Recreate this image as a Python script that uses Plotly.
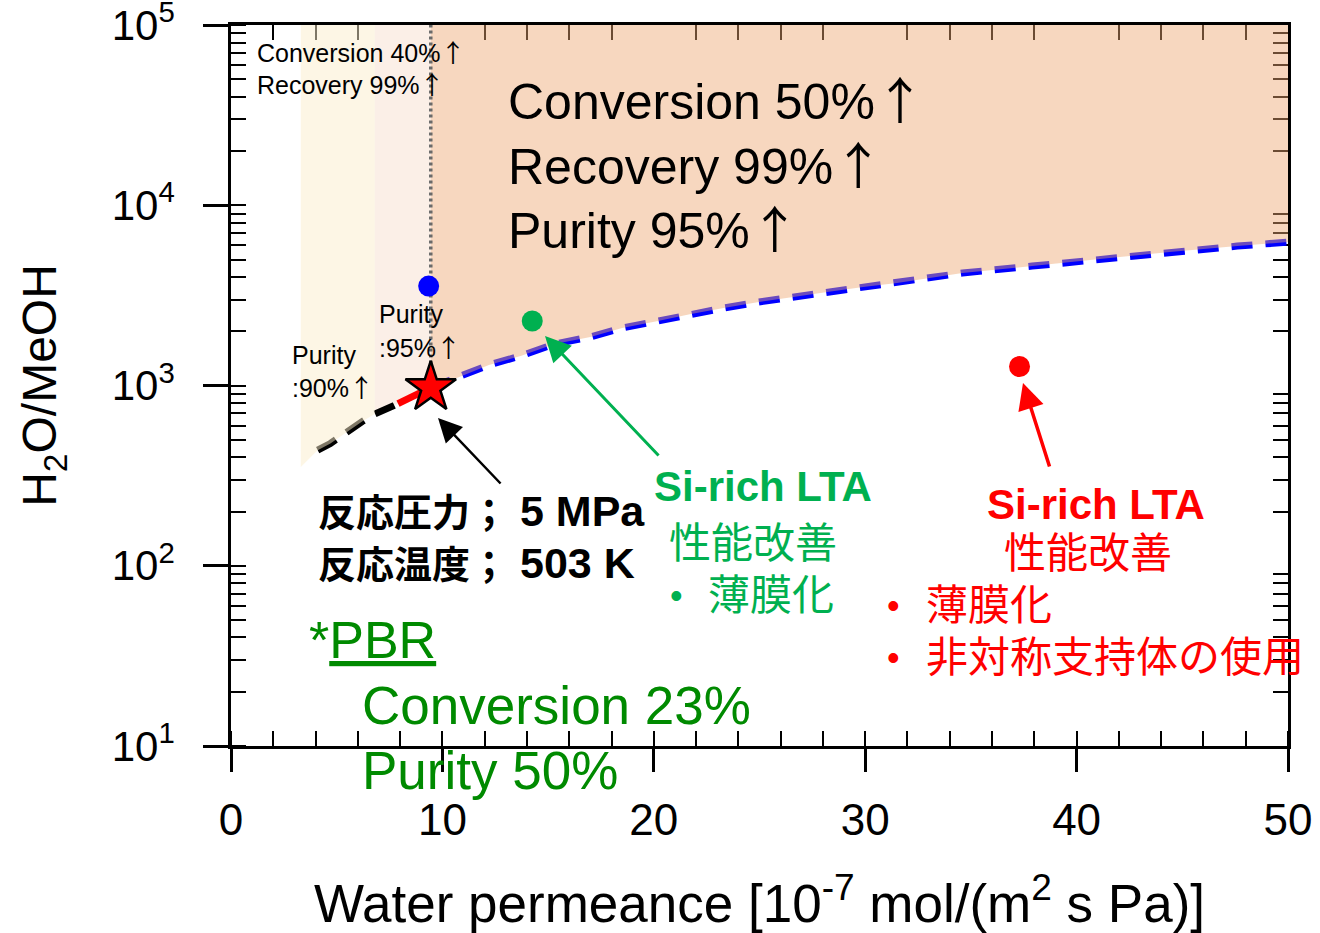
import plotly.graph_objects as go

# ---- boundary curve of the operating window, split by line style ----
black_x = [4.1, 4.7, 6.2, 6.8, 7.7, 7.9]
black_y = [438, 477, 631, 695, 774, 794]
red_x = [7.9, 9.45]
red_y = [794, 975]
blue_x = [9.45, 10.8, 12.2, 13.7, 15.3, 17.0, 18.5, 20.2, 21.7, 23.3, 24.9,
          26.6, 28.2, 29.9, 31.5, 34.6, 37.9, 41.1, 44.4, 47.6, 50.0]
blue_y = [975, 1114, 1300, 1460, 1700, 1860, 2085, 2280, 2490, 2690, 2900,
          3100, 3300, 3520, 3710, 4210, 4600, 5030, 5510, 5940, 6250]

# lower-left corner of the purity 90% band and the band edges on x
band_start_x, band_start_y = 3.3, 353
edge_p90, edge_p95, edge_c50, x_max = 3.3, 6.8, 9.45, 50.0
y_top = 1e5

# membrane / operating points
star_x, star_y = [9.45], [975]
blue_pt_x, blue_pt_y = [9.35], [3565]
green_pt_x, green_pt_y = [14.25], [2280]
red_pt_x, red_pt_y = [37.3], [1275]

y_tickvals = [10, 100, 1000, 10000, 100000]
y_ticktext = ["10<sup>1</sup>", "10<sup>2</sup>", "10<sup>3</sup>",
              "10<sup>4</sup>", "10<sup>5</sup>"]
x_tickvals = [0, 10, 20, 30, 40, 50]

FONT = "Liberation Sans, Arial, Noto Sans CJK JP, sans-serif"
GREEN = "#00B050"
DARKGREEN = "#008A00"
RED = "#FF0000"
UP = '<span style="font-family:Noto Sans CJK JP">↑</span>'

curve_x = black_x + red_x[1:] + blue_x[1:]
curve_y = black_y + red_y[1:] + blue_y[1:]


def band(x0, x1, start=None):
    xs, ys = [], []
    if start is not None:
        xs.append(start[0]); ys.append(start[1])
    for cx, cy in zip(curve_x, curve_y):
        if x0 <= cx <= x1:
            xs.append(cx); ys.append(cy)
    xs += [x1, x0]
    ys += [y_top, y_top]
    xs.append(xs[0]); ys.append(ys[0])
    return xs, ys


fig = go.Figure()

# purity 95% band (opaque, beneath the curve)
px_, py_ = band(edge_p95, edge_c50)
fig.add_trace(go.Scatter(x=px_, y=py_, fill="toself", mode="none",
                         fillcolor="rgb(251,239,231)", hoverinfo="skip"))

# boundary curve
fig.add_trace(go.Scatter(x=black_x, y=black_y, mode="lines",
                         line=dict(color="black", width=7, dash="21px,13px")))
fig.add_trace(go.Scatter(x=red_x, y=red_y, mode="lines",
                         line=dict(color=RED, width=7)))
fig.add_trace(go.Scatter(x=blue_x, y=blue_y, mode="lines",
                         line=dict(color="#0000FF", width=7, dash="21px,13px")))

# translucent bands drawn over the curve
px_, py_ = band(edge_p90, edge_p95, start=(band_start_x, band_start_y))
fig.add_trace(go.Scatter(x=px_, y=py_, fill="toself", mode="none",
                         fillcolor="rgba(252,237,204,0.5)", hoverinfo="skip"))
px_, py_ = band(edge_c50, x_max)
fig.add_trace(go.Scatter(x=px_, y=py_, fill="toself", mode="none",
                         fillcolor="rgba(237,166,114,0.45)", hoverinfo="skip"))

# dotted marker of the conversion 50% limit
fig.add_trace(go.Scatter(x=[edge_c50, edge_c50], y=[star_y[0], y_top], mode="lines",
                         line=dict(color="#6A6A6A", width=3.5, dash="3px,3px")))

# points
fig.add_trace(go.Scatter(x=blue_pt_x, y=blue_pt_y, mode="markers",
                         marker=dict(color="#0000FF", size=21)))
fig.add_trace(go.Scatter(x=green_pt_x, y=green_pt_y, mode="markers",
                         marker=dict(color=GREEN, size=21)))
fig.add_trace(go.Scatter(x=red_pt_x, y=red_pt_y, mode="markers",
                         marker=dict(color=RED, size=21)))
fig.add_trace(go.Scatter(x=star_x, y=star_y, mode="markers",
                         marker=dict(symbol="star", color=RED, size=38,
                                     line=dict(color="black", width=2.5))))

# frame axes on top / right carrying only the inner minor ticks
fig.add_trace(go.Scatter(x=[None], y=[None], xaxis="x2", yaxis="y2",
                         hoverinfo="skip"))

# ---- text ----
L, R, T, B = 231, 1288, 25, 746


def xp(X):
    return (X - L) / (R - L)


def yp(Y):
    return (B - Y) / (B - T)


annotations = []


def ann(text, X, Y, size, color="black", bold=False, xanchor="left"):
    if bold:
        text = "<b>" + text + "</b>"
    annotations.append(dict(text=text, x=xp(X), y=yp(Y), xref="paper", yref="paper",
                            xanchor=xanchor, yanchor="middle", showarrow=False,
                            font=dict(family=FONT, size=size, color=color)))


def arrow(hx, hy, tx, ty, color, width, size):
    annotations.append(dict(text="", x=xp(hx), y=yp(hy), xref="paper", yref="paper",
                            ax=tx - hx, ay=ty - hy, showarrow=True, arrowhead=2,
                            arrowsize=size, arrowwidth=width, arrowcolor=color,
                            standoff=0))


def latin(s, size):
    return '<span style="font-size:%dpx">%s</span>' % (size, s)


ann("Conversion 40%" + UP, 255, 51, 25)
ann("Recovery 99%" + UP, 255, 83, 25)
ann("Conversion 50%" + UP, 506, 97, 50)
ann("Recovery 99%" + UP, 506, 162, 50)
ann("Purity 95%" + UP, 506, 226, 50)
ann("Purity", 377, 314, 25)
ann(":95%" + UP, 377, 346, 25)
ann("Purity", 290, 355, 25)
ann(":90%" + UP, 290, 386, 25)
ann("反応圧力；" + latin(" 5 MPa", 43), 316, 511, 38, bold=True)
ann("反応温度；" + latin(" 503 K", 43), 316, 563, 38, bold=True)
ann("Si-rich LTA", 652, 487, 42, GREEN, bold=True)
ann("性能改善", 667, 543, 42, GREEN)
ann("•", 676, 595, 36, GREEN, xanchor="center")
ann("薄膜化", 706, 595, 42, GREEN)
ann("Si-rich LTA", 985, 505, 42, RED, bold=True)
ann("性能改善", 1002, 553, 42, RED)
ann("•", 893, 605, 36, RED, xanchor="center")
ann("薄膜化", 924, 605, 42, RED)
ann("•", 893, 657, 36, RED, xanchor="center")
ann("非対称支持体の使用", 924, 657, 42, RED)
ann("*<u>PBR</u>", 307, 640, 52, DARKGREEN)
ann("Conversion 23%", 360, 705, 53, DARKGREEN)
ann("Purity 50%", 360, 770, 53, DARKGREEN)

arrow(438, 418, 502, 485, "black", 2.5, 1.9)
arrow(545, 336, 660, 457, GREEN, 3, 1.7)
arrow(1023, 383, 1050, 468, RED, 3.5, 1.5)

axis_common = dict(showgrid=False, zeroline=False, showline=True,
                   linecolor="black", linewidth=2.5, automargin=False)

fig.update_layout(
    width=1320, height=933,
    margin=dict(l=L, r=1320 - R, t=T, b=933 - B),
    paper_bgcolor="white", plot_bgcolor="white",
    showlegend=False,
    annotations=annotations,
    font=dict(family=FONT, color="black"),
    xaxis=dict(**axis_common, range=[0, 50], tickmode="array", tickvals=x_tickvals,
               ticks="outside", ticklen=23, tickwidth=2.5, tickcolor="black",
               tickfont=dict(size=44, family=FONT), ticklabelstandoff=10,
               ticklabeloverflow="allow",
               minor=dict(ticks="inside", dtick=2, ticklen=15, tickwidth=2,
                          tickcolor="black", showgrid=False),
               title=dict(text="Water permeance [10<sup>-7</sup> mol/(m<sup>2</sup> s Pa)]",
                          font=dict(size=53, family=FONT), standoff=45)),
    yaxis=dict(**axis_common, type="log", range=[1, 5.0005], tickmode="array",
               tickvals=y_tickvals, ticktext=y_ticktext,
               ticks="outside", ticklen=25, tickwidth=2.5, tickcolor="black",
               tickfont=dict(size=42, family=FONT), ticklabelstandoff=20,
               ticklabeloverflow="allow",
               minor=dict(ticks="inside", ticklen=15, tickwidth=2, tickcolor="black",
                          dtick="D1", showgrid=False),
               title=dict(text="H<sub>2</sub>O/MeOH", font=dict(size=48, family=FONT),
                          standoff=40)),
    xaxis2=dict(**axis_common, overlaying="x", side="top", range=[0, 50], dtick=10,
                ticks="", showticklabels=False, layer="below traces",
                minor=dict(ticks="inside", dtick=2, ticklen=15, tickwidth=2,
                           tickcolor="black", showgrid=False)),
    yaxis2=dict(**axis_common, overlaying="y", side="right", type="log",
                range=[1, 5.0005], dtick=1, ticks="", showticklabels=False,
                layer="below traces",
                minor=dict(ticks="inside", ticklen=15, tickwidth=2, tickcolor="black",
                           dtick="D1", showgrid=False)),
)

fig.write_html("out.html")
